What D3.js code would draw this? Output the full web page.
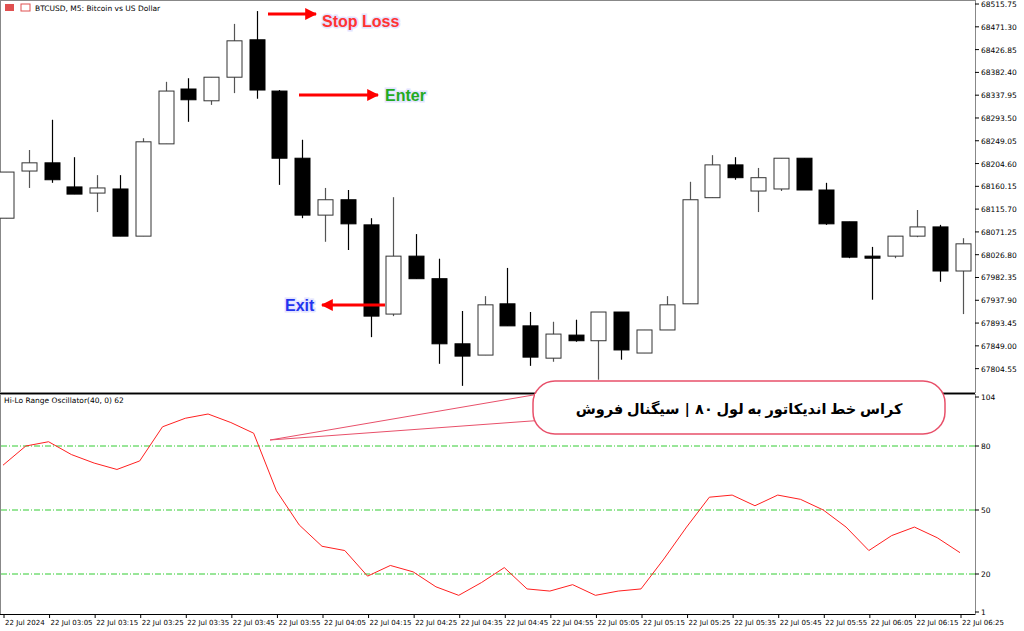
<!DOCTYPE html>
<html><head><meta charset="utf-8">
<script src="https://cdn.jsdelivr.net/npm/d3@7"></script>
<style>body{margin:0;background:#fff}svg{display:block}</style></head>
<body><svg id="c" width="1024" height="631"></svg>
<script>
const open_ = [68098,68190,68206,68159,68147,68155,68063,68243,68350,68327,68373,68446,68346,68215,68104,68134,68085,67911,68024,67980,67853,67831,67931,67888,67825,67870,67859,67915,67835,67880,67931,68138,68202,68151,68155,68215,68153,68091,68024,68024,68063,68081,67995];
const high_ = [68188,68231,68290,68217,68182,68182,68254,68364,68371,68373,68477,68502,68348,68251,68157,68153,68098,68139,68067,68019,67917,67946,68001,67915,67896,67900,67915,67915,67880,67946,68169,68221,68217,68196,68215,68215,68167,68091,68042,68063,68114,68085,68059];
const low_ = [68098,68157,68167,68145,68110,68063,68063,68243,68286,68319,68342,68331,68163,68098,68052,68036,67866,67907,67980,67814,67771,67831,67888,67810,67818,67857,67783,67822,67835,67880,67931,68138,68173,68110,68151,68153,68085,68020,67939,68020,68061,67974,67911];
const close_ = [68188,68206,68173,68145,68157,68063,68247,68346,68329,68373,68444,68348,68215,68104,68134,68087,67907,68024,67980,67853,67829,67929,67888,67827,67872,67859,67915,67841,67880,67929,68134,68202,68177,68177,68215,68153,68087,68022,68020,68063,68081,67995,68048];
const osc = [71,80,82,76,72,69,73,89,93,95,91,86,59,43,33,31,19,24,21,14,10,16,23,13,12,15,10,12,13,27,42,56,57,52,57,55,50,42,31,38,42,37,30];
const priceTicks = ["68515.75","68471.30","68426.85","68382.40","68337.95","68293.50","68249.05","68204.60","68160.15","68115.70","68071.25","68026.80","67982.35","67937.90","67893.45","67849.00","67804.55"];
const oscTicks = [104,80,50,20,1];
const oscLevels = [80,50,20];
const timeLabels = ["22 Jul 2024","22 Jul 03:05","22 Jul 03:15","22 Jul 03:25","22 Jul 03:35","22 Jul 03:45","22 Jul 03:55","22 Jul 04:05","22 Jul 04:15","22 Jul 04:25","22 Jul 04:35","22 Jul 04:45","22 Jul 04:55","22 Jul 05:05","22 Jul 05:15","22 Jul 05:25","22 Jul 05:35","22 Jul 05:45","22 Jul 05:55","22 Jul 06:05","22 Jul 06:15","22 Jul 06:25"];

const svg = d3.select("#c");
const F = "Tahoma, 'DejaVu Sans', sans-serif";
const R = 975;
const x = d3.scaleLinear().domain([0,42]).range([6,963]);
const y = d3.scaleLinear().domain([67759,68523.6]).range([392,0]);
const yo = d3.scaleLinear().domain([20,80]).range([574,446]);

svg.append("rect").attr("x",0.5).attr("y",0.5).attr("width",R).attr("height",392).attr("fill","none").attr("stroke","#888");
svg.append("rect").attr("x",0.5).attr("y",394.5).attr("width",R).attr("height",220).attr("fill","none").attr("stroke","#888");
svg.append("line").attr("x1",0).attr("x2",R).attr("y1",393.5).attr("y2",393.5).attr("stroke","#000");

priceTicks.forEach(t=>{
  const yy = y(+t);
  svg.append("line").attr("x1",R).attr("x2",R+4).attr("y1",yy).attr("y2",yy).attr("stroke","#000");
  svg.append("text").attr("x",R+6).attr("y",yy+3).attr("font-family",F).attr("font-size",7.5).attr("fill","#000").text(t);
});

const bw = 15;
d3.range(open_.length).forEach(i=>{
  const cx = Math.round(x(i))+0.5;
  const up = close_[i] >= open_[i];
  const g = svg.append("g");
  g.append("line").attr("x1",cx).attr("x2",cx).attr("y1",y(high_[i])).attr("y2",y(low_[i])).attr("stroke",up?"#555":"#000").attr("stroke-width",1.2);
  const t = y(Math.max(open_[i],close_[i])), b = y(Math.min(open_[i],close_[i]));
  g.append("rect").attr("x",cx-bw/2).attr("y",t).attr("width",bw).attr("height",Math.max(1.5,b-t))
    .attr("fill",up?"#fff":"#000").attr("stroke",up?"#333":"#000").attr("stroke-width",1);
});

svg.append("rect").attr("x",5).attr("y",4).attr("width",9).attr("height",7).attr("fill","#e05050");
svg.append("rect").attr("x",21).attr("y",4).attr("width",9).attr("height",7).attr("fill","none").attr("stroke","#e05050");
svg.append("text").attr("x",35).attr("y",11).attr("font-family",F).attr("font-size",7.5).text("BTCUSD, M5:  Bitcoin vs US Dollar");

oscLevels.forEach(v=>{
  svg.append("line").attr("x1",1).attr("x2",R).attr("y1",yo(v)).attr("y2",yo(v)).attr("stroke","#33cc33").attr("stroke-dasharray","6,2,1,2").attr("stroke-width",1);
});
oscTicks.forEach(v=>{
  const yy = Math.min(612,Math.max(397,yo(v)));
  svg.append("line").attr("x1",R).attr("x2",R+4).attr("y1",yy).attr("y2",yy).attr("stroke","#000");
  svg.append("text").attr("x",R+6).attr("y",yy+3).attr("font-family",F).attr("font-size",7.5).text(v);
});
svg.append("path").datum(osc).attr("fill","none").attr("stroke","#ff2020").attr("stroke-width",1)
  .attr("d",d3.line().x((d,i)=>x(i)-3).y(d=>yo(d)));
svg.append("text").attr("x",4).attr("y",403).attr("font-family",F).attr("font-size",7.5).text("Hi-Lo Range Oscillator(40, 0) 62");

svg.append("line").attr("x1",0).attr("x2",R).attr("y1",614.5).attr("y2",614.5).attr("stroke","#000");
timeLabels.forEach((t,k)=>{
  const xx = x(k*2)-2;
  svg.append("line").attr("x1",xx).attr("x2",xx).attr("y1",614).attr("y2",618).attr("stroke","#000");
  svg.append("text").attr("x",xx+1).attr("y",625).attr("font-family",F).attr("font-size",7).text(t);
});

const defs = svg.append("defs");
defs.append("marker").attr("id","ah").attr("viewBox","0 0 10 10").attr("refX",9).attr("refY",5).attr("markerWidth",4).attr("markerHeight",4).attr("orient","auto")
  .append("path").attr("d","M0,0L10,5L0,10z").attr("fill","#ff0000");
function arrow(x1,y1,x2,y2){svg.append("line").attr("x1",x1).attr("y1",y1).attr("x2",x2).attr("y2",y2).attr("stroke","#ff0000").attr("stroke-width",3).attr("marker-end","url(#ah)");}
arrow(268,14,316,14);
arrow(299,95,378,95);
arrow(385,305,322,305);
function lbl(t,xx,yy,c){
  svg.append("text").attr("x",xx).attr("y",yy).attr("font-family","Arial, 'Liberation Sans', sans-serif").attr("font-weight","bold").attr("font-size",16)
   .attr("fill",c).attr("stroke","#e4e4ff").attr("stroke-width",3).attr("paint-order","stroke").text(t);
}
lbl("Stop Loss",322,27,"#ff3333");
lbl("Enter",385,101,"#22aa22");
lbl("Exit",285,311,"#2233ee");

svg.append("path").attr("d","M545,393 L270,440 L545,420 Z").attr("fill","#fff").attr("stroke","#e8506a").attr("stroke-width",1);
svg.append("rect").attr("x",533).attr("y",381).attr("width",412).attr("height",53).attr("rx",22).attr("fill","#fff").attr("stroke","#e8506a").attr("stroke-width",1.5);
svg.append("rect").attr("x",535).attr("y",394).attr("width",20).attr("height",24).attr("fill","#fff");
svg.append("text").attr("x",739).attr("y",414).attr("text-anchor","middle").attr("direction","rtl").attr("font-family","'Noto Sans', 'DejaVu Sans', sans-serif").attr("font-weight","bold").attr("font-size",14.5).text("کراس خط اندیکاتور به لول ۸۰ | سیگنال فروش");
</script></body></html>
